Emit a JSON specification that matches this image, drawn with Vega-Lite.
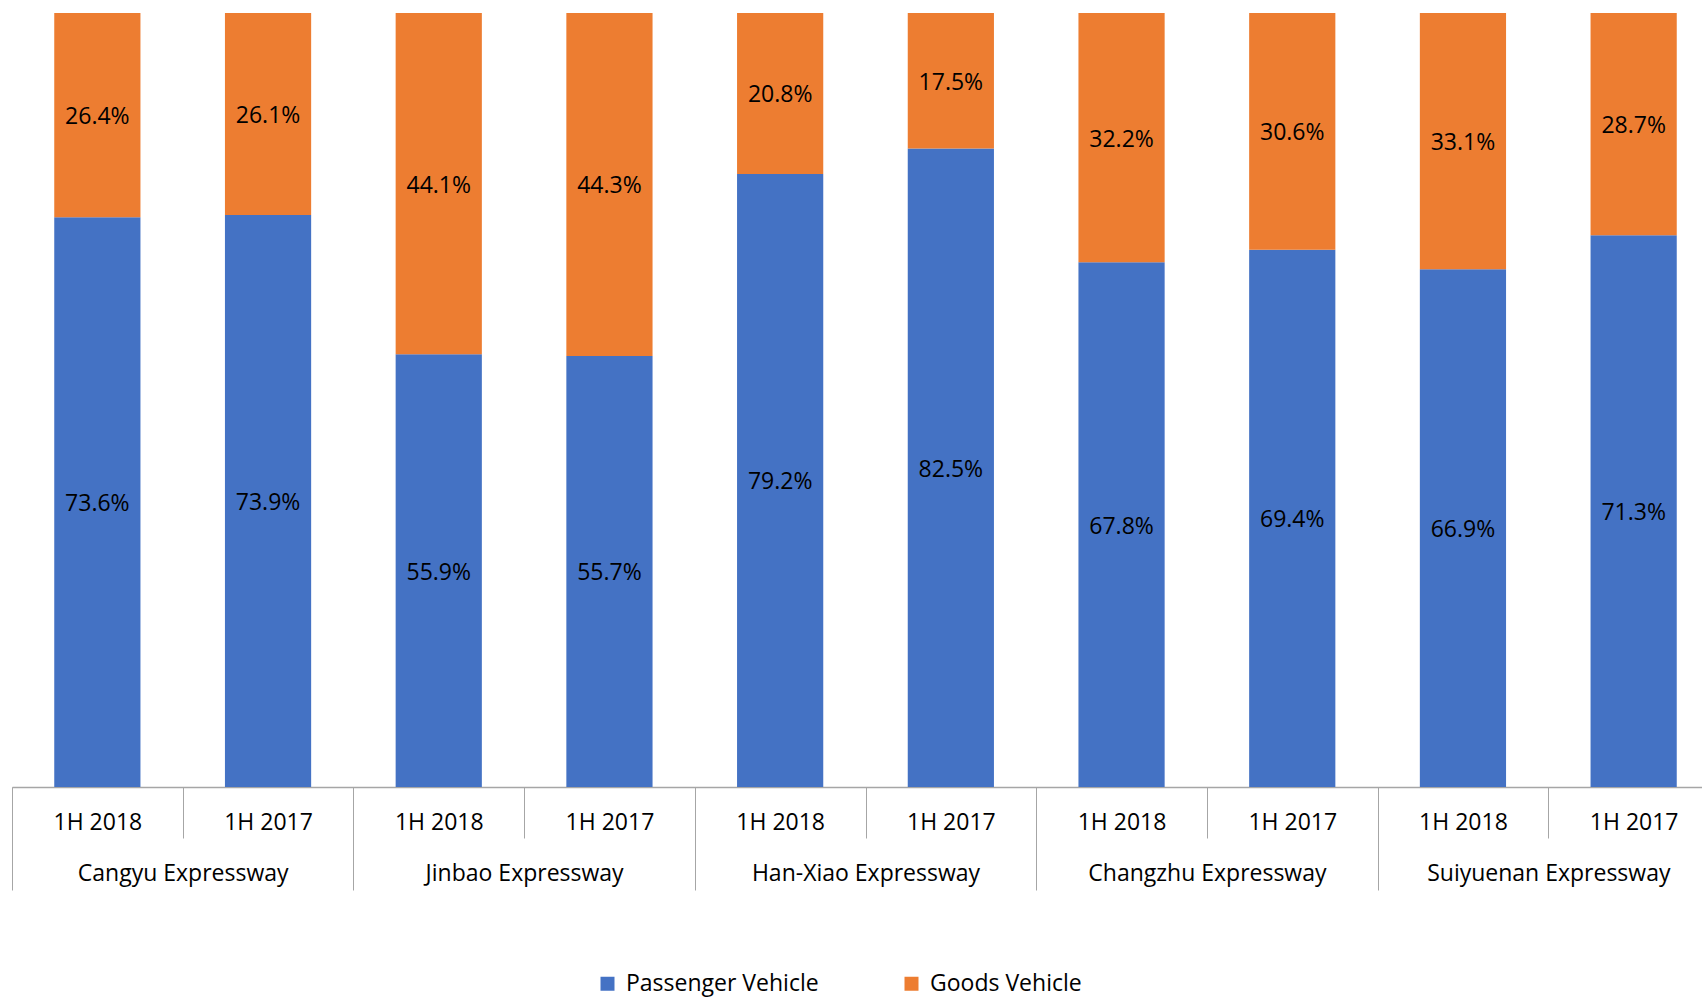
{
  "$schema": "https://vega.github.io/schema/vega-lite/v6.json",
  "width": 1690,
  "height": 774,
  "autosize": {"type": "none"},
  "padding": {"left": 12, "top": 13, "right": 0, "bottom": 213},
  "config": {"view": {"stroke": null}, "font": "Open Sans"},
  "data": {
    "values": [
      {"road": "Cangyu Expressway", "bar": "Cangyu Expressway|1H 2018", "type": "Passenger Vehicle", "share": 0.736},
      {"road": "Cangyu Expressway", "bar": "Cangyu Expressway|1H 2018", "type": "Goods Vehicle", "share": 0.264},
      {"road": "Cangyu Expressway", "bar": "Cangyu Expressway|1H 2017", "type": "Passenger Vehicle", "share": 0.739},
      {"road": "Cangyu Expressway", "bar": "Cangyu Expressway|1H 2017", "type": "Goods Vehicle", "share": 0.261},
      {"road": "Jinbao Expressway", "bar": "Jinbao Expressway|1H 2018", "type": "Passenger Vehicle", "share": 0.559},
      {"road": "Jinbao Expressway", "bar": "Jinbao Expressway|1H 2018", "type": "Goods Vehicle", "share": 0.441},
      {"road": "Jinbao Expressway", "bar": "Jinbao Expressway|1H 2017", "type": "Passenger Vehicle", "share": 0.557},
      {"road": "Jinbao Expressway", "bar": "Jinbao Expressway|1H 2017", "type": "Goods Vehicle", "share": 0.443},
      {"road": "Han-Xiao Expressway", "bar": "Han-Xiao Expressway|1H 2018", "type": "Passenger Vehicle", "share": 0.792},
      {"road": "Han-Xiao Expressway", "bar": "Han-Xiao Expressway|1H 2018", "type": "Goods Vehicle", "share": 0.208},
      {"road": "Han-Xiao Expressway", "bar": "Han-Xiao Expressway|1H 2017", "type": "Passenger Vehicle", "share": 0.825},
      {"road": "Han-Xiao Expressway", "bar": "Han-Xiao Expressway|1H 2017", "type": "Goods Vehicle", "share": 0.175},
      {"road": "Changzhu Expressway", "bar": "Changzhu Expressway|1H 2018", "type": "Passenger Vehicle", "share": 0.678},
      {"road": "Changzhu Expressway", "bar": "Changzhu Expressway|1H 2018", "type": "Goods Vehicle", "share": 0.322},
      {"road": "Changzhu Expressway", "bar": "Changzhu Expressway|1H 2017", "type": "Passenger Vehicle", "share": 0.694},
      {"road": "Changzhu Expressway", "bar": "Changzhu Expressway|1H 2017", "type": "Goods Vehicle", "share": 0.306},
      {"road": "Suiyuenan Expressway", "bar": "Suiyuenan Expressway|1H 2018", "type": "Passenger Vehicle", "share": 0.669},
      {"road": "Suiyuenan Expressway", "bar": "Suiyuenan Expressway|1H 2018", "type": "Goods Vehicle", "share": 0.331},
      {"road": "Suiyuenan Expressway", "bar": "Suiyuenan Expressway|1H 2017", "type": "Passenger Vehicle", "share": 0.713},
      {"road": "Suiyuenan Expressway", "bar": "Suiyuenan Expressway|1H 2017", "type": "Goods Vehicle", "share": 0.287}
    ]
  },
  "layer": [
    {
      "encoding": {
        "x": {
          "field": "bar", "type": "nominal", "sort": null,
          "scale": {"paddingInner": 0, "paddingOuter": 0, "range": [0, 1707]},
          "axis": {
            "orient": "bottom",
            "title": null, "labelExpr": "split(datum.label, '|')[1]", "labelAngle": 0,
            "tickBand": "extent", "tickSize": 51, "tickColor": "#A6A6A6", "tickWidth": 1,
            "domainColor": "#A6A6A6", "domainWidth": 1.5,
            "labelFont": "Open Sans", "labelFontSize": 23, "labelColor": "#000000",
            "labelBaseline": "middle", "labelPadding": -16, "labelLimit": 0
          }
        }
      },
      "layer": [
        {
          "mark": {"type": "bar", "width": {"band": 0.505}},
          "encoding": {
            "y": {"field": "share", "type": "quantitative", "stack": "zero", "scale": {"domain": [0, 1], "nice": false}, "axis": null},
            "color": {
              "field": "type", "type": "nominal",
              "scale": {"domain": ["Passenger Vehicle", "Goods Vehicle"], "range": ["#4472C4", "#ED7D31"]},
              "legend": {
                "title": null, "orient": "none", "legendX": 584, "legendY": 959, "direction": "horizontal",
                "symbolType": "square", "symbolSize": 196, "symbolStrokeWidth": 0,
                "labelFont": "Open Sans", "labelFontSize": 23, "labelColor": "#000000",
                "labelOffset": 7, "columnPadding": 81, "padding": 0, "labelLimit": 0
              }
            },
            "order": {"field": "type", "sort": "descending"}
          }
        },
        {
          "transform": [
            {"stack": "share", "groupby": ["bar"], "sort": [{"field": "type", "order": "descending"}], "as": ["lo", "hi"]},
            {"fold": ["lo", "hi"], "as": ["edge", "pos"]},
            {"aggregate": [{"op": "mean", "field": "pos", "as": "mid"}], "groupby": ["bar", "type", "share"]}
          ],
          "mark": {"type": "text", "font": "Open Sans", "fontSize": 23, "color": "#000000", "baseline": "middle", "align": "center", "dy": 2},
          "encoding": {
            "y": {"field": "mid", "type": "quantitative"},
            "text": {"field": "share", "type": "quantitative", "format": ".1%"}
          }
        }
      ]
    },
    {
      "mark": {"type": "point", "opacity": 0},
      "encoding": {
        "x": {
          "field": "road", "type": "nominal", "sort": null,
          "scale": {"paddingInner": 0, "paddingOuter": 0, "range": [0, 1707]},
          "axis": {
            "orient": "bottom",
            "title": null, "labelAngle": 0, "domain": false,
            "tickBand": "extent", "tickSize": 103, "tickColor": "#A6A6A6", "tickWidth": 1,
            "labelFont": "Open Sans", "labelFontSize": 23, "labelColor": "#000000",
            "labelBaseline": "middle", "labelPadding": -17, "labelLimit": 0
          }
        }
      }
    }
  ],
  "resolve": {"scale": {"x": "independent"}, "axis": {"x": "independent"}}
}
